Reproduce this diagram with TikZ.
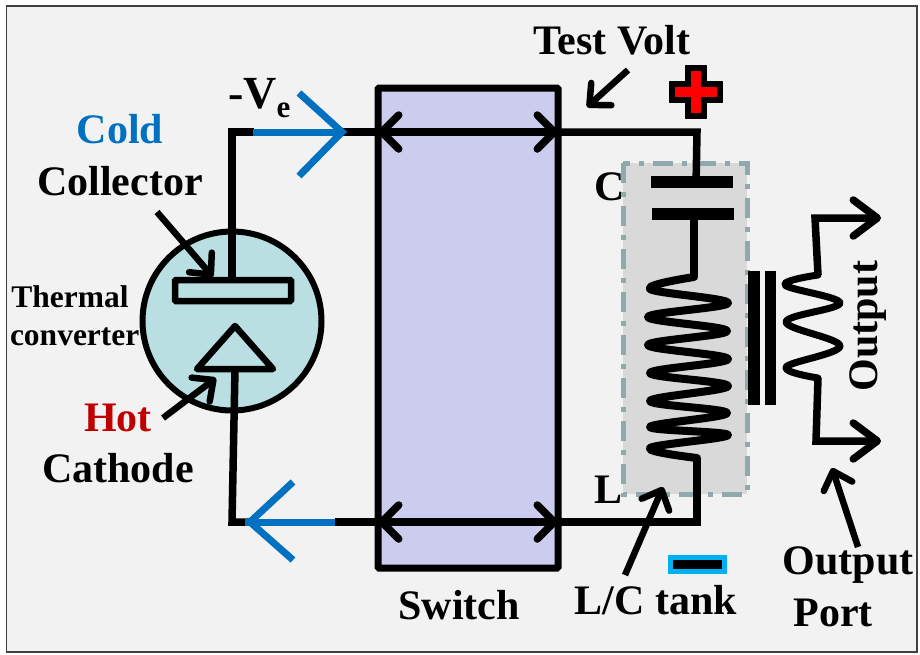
\documentclass[tikz,border=0pt]{standalone}
\usepackage{fontspec}
\setmainfont{Liberation Serif}
\usetikzlibrary{arrows.meta}
\definecolor{pagebg}{HTML}{F2F2F2}
\definecolor{switchfill}{HTML}{CCCCEE}
\definecolor{tankfill}{HTML}{D9D9D9}
\definecolor{tankedge}{HTML}{8FA9AD}
\definecolor{tubefill}{HTML}{B9DFE3}
\definecolor{flowblue}{HTML}{0070C0}
\definecolor{hotred}{HTML}{C00000}
\definecolor{minusblue}{HTML}{00B0F0}
\tikzset{
  wire/.style={draw=black,line width=7.5pt,line join=miter},
  coil/.style={draw=black,line width=8pt,line cap=round,line join=round},
  flow/.style={draw=flowblue,line width=7pt},
  lbl/.style={font=\fontsize{42}{42}\selectfont\bfseries,anchor=base,inner sep=0pt,outer sep=0pt},
  smalllbl/.style={font=\fontsize{31.5}{32}\selectfont\bfseries,anchor=base,inner sep=0pt,outer sep=0pt},
  pointer/.style={draw=black,line width=6.5pt,-{Straight Barb[length=16pt,width=30pt,round]}},
  twoway/.style={draw=black,line width=7.5pt,{Straight Barb[length=17pt,width=34pt,round]}-{Straight Barb[length=17pt,width=34pt,round]}},
  outarrow/.style={draw=black,line width=7.5pt,-{Straight Barb[length=24pt,width=36pt,round]}},
  plate/.style={fill=black,draw=none},
}
\begin{document}
\begin{tikzpicture}[x=1pt,y=-1pt]
\useasboundingbox (0,0) rectangle (920,654);
\fill[white] (0,0) rectangle (920,654);
\draw[draw=black!75,line width=1.5pt,fill=pagebg] (6.5,6) rectangle (917,652);

% junctions
\coordinate (tl) at (232,132);
\coordinate (bl) at (232,522);
\coordinate (tr) at (697,132);
\coordinate (br) at (697,522);
\coordinate (swTL) at (378,132);
\coordinate (swTR) at (558,132);
\coordinate (swBL) at (378,522);
\coordinate (swBR) at (558,522);

% labels under the tank edge
\node[lbl] (cl) at (610,200) {C};
\node[lbl] (ll) at (608,503) {L};

% tank
\draw[fill=tankfill,draw=tankedge,line width=5pt,dash pattern=on 20pt off 9pt on 5pt off 9pt] (623,163) rectangle (747,494);

% switch
\node[draw=black,fill=switchfill,line width=7pt,minimum width=180pt,minimum height=480pt,inner sep=0pt,outer sep=0pt,anchor=north west,rounded corners=1pt] (switch) at (378,88) {};

% tube
\node[circle,draw=black,fill=tubefill,line width=6pt,minimum size=179pt,inner sep=0pt,outer sep=0pt] (tube) at (232,321) {};
\node[draw=black,line width=6.5pt,minimum width=116pt,minimum height=21pt,inner sep=0pt,outer sep=0pt,rounded corners=1pt] (collector) at (233,290.5) {};
\draw[draw=black,line width=6.5pt,line join=round] (235,326) -- (273,369) -- (197,369) -- cycle;
\coordinate (cathode) at (235,369);

% wires left
\draw[wire] (collector.north -| tl) -- (tl) -- ++(22,0);
\draw[wire] (cathode) -- (bl) -- ++(20,0);
\draw[wire] (342,132) -- (swTL);
\draw[wire] (335,522) -- (swBL);
\draw[flow] (253,132) -- (342,132);
\draw[flow,line join=miter] (299,93) -- (342,132) -- (299,176);
\draw[flow] (335,522) -- (245,522);
\draw[flow,line join=miter] (293,482) -- (250,522) -- (293,560);

% two-way arrows
\draw[twoway] (swTL) -- (swTR);
\draw[twoway] (swBL) -- (swBR);

% wires right
\coordinate (capA) at (696,182);
\coordinate (capB) at (694,214);
\coordinate (coilA) at (694,277);
\coordinate (coilB) at (697,458);
\draw[wire] (swTR) -- (tr) -- (capA |- 0,186);
\draw[wire] (swBR) -- (br) -- (coilB);
\fill[plate] (651,176) rectangle (733,188);
\fill[plate] (652,208) rectangle (734,220);
\draw[wire] (capB) -- (coilA);

% primary coil
\draw[coil] plot[smooth,tension=0.62] coordinates {(694,277) (650,289) (728,303) (648,317) (727,331) (648,345) (728,359) (650,373) (728,386) (650,401) (727,413) (650,427) (728,435) (650,448) (697,458)};

% transformer core
\fill[plate] (748,271) rectangle (760,405);
\fill[plate] (765,271) rectangle (776,405);

% secondary coil
\draw[coil,line width=7pt] plot[smooth,tension=0.62] coordinates {(818,275) (785,285) (840,303) (786,322) (840,346) (786,367) (818,378)};
\coordinate (secA) at (818,275);
\coordinate (secB) at (818,378);
\coordinate (outA) at (881,218);
\coordinate (outB) at (881,441);
\draw[outarrow] (secA) -- (815,218) -- (outA);
\draw[outarrow] (secB) -- (816,441) -- (outB);

% plus sign
\draw[fill=red,draw=black,line width=5.5pt,line join=miter] (688,68) -- (704,68) -- (704,84) -- (720,84) -- (720,100) -- (704,100) -- (704,116) -- (688,116) -- (688,100) -- (672,100) -- (672,84) -- (688,84) -- cycle;
% minus sign
\draw[fill=black,draw=minusblue,line width=5pt] (670.5,557.5) rectangle (724.5,571.5);

% labels
\node[lbl] (testvolt) at (612,54) {Test Volt};
\node[lbl,anchor=base west] (ve) at (228,108) {\fontsize{46}{46}\selectfont -V\raisebox{-9pt}{\fontsize{31}{31}\selectfont e}};
\node[lbl,text=flowblue] (cold) at (120,143) {Cold};
\node[lbl] (collab) at (120,195) {Collector};
\node[smalllbl] (therm) at (70,307) {Thermal};
\node[smalllbl,anchor=base west] (conv) at (10,345) {converter};
\node[lbl,text=hotred] (hot) at (118,431) {Hot};
\node[lbl] (cath) at (118,482) {Cathode};
\node[lbl] (swl) at (459,619) {Switch};
\node[lbl] (tank) at (656,614) {L/C tank};
\node[lbl] (port1) at (848,574) {Output};
\node[lbl] (port2) at (833,626) {Port};
\node[lbl,rotate=90,anchor=base] (outl) at (877,326) {Output};

% pointers
\coordinate (p1a) at (157,212); \coordinate (p1b) at (213,277);
\coordinate (p2a) at (163,418); \coordinate (p2b) at (216,378);
\coordinate (p3a) at (628,70); \coordinate (p3b) at (587,107);
\coordinate (p4a) at (625,575); \coordinate (p4b) at (663,487);
\coordinate (p5a) at (858,547); \coordinate (p5b) at (832,468);
\draw[pointer] (p1a) -- (p1b);
\draw[pointer] (p2a) -- (p2b);
\draw[pointer] (p3a) -- (p3b);
\draw[pointer] (p4a) -- (p4b);
\draw[pointer] (p5a) -- (p5b);
\end{tikzpicture}
\end{document}
